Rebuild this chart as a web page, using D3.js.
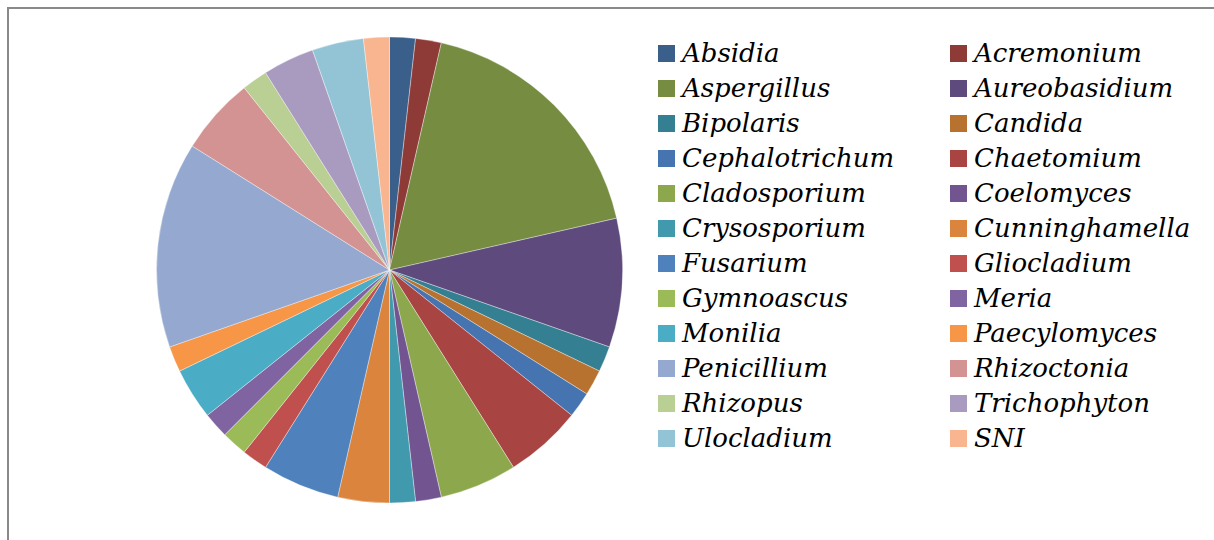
<!DOCTYPE html>
<html>
<head>
<meta charset="utf-8">
<style>
  body { margin: 0; background: #fff; }
  svg { display: block; }
</style>
</head>
<body>
<svg width="1214" height="540"></svg>
<script src="https://cdn.jsdelivr.net/npm/d3@7"></script>
<script>
// genus names, in legend / slice order
var genera = ["Absidia", "Acremonium", "Aspergillus", "Aureobasidium", "Bipolaris", "Candida",
  "Cephalotrichum", "Chaetomium", "Cladosporium", "Coelomyces", "Crysosporium", "Cunninghamella",
  "Fusarium", "Gliocladium", "Gymnoascus", "Meria", "Monilia", "Paecylomyces",
  "Penicillium", "Rhizoctonia", "Rhizopus", "Trichophyton", "Ulocladium", "SNI"];

// number of isolates per genus
var counts = [1, 1, 10, 5, 1, 1,
  1, 3, 3, 1, 1, 2,
  3, 1, 1, 1, 2, 1,
  8, 3, 1, 2, 2, 1];

var colors = ["#3a5f8b", "#8e3b38", "#758c41", "#5e4a7c", "#347f92", "#b8722f",
  "#4674b0", "#a84542", "#8da74d", "#725590", "#4199ae", "#db843d",
  "#4f81bd", "#c0504d", "#9bbb59", "#8064a2", "#4bacc6", "#f79646",
  "#95a9d0", "#d39392", "#bacf93", "#a99bbf", "#93c4d5", "#f9b590"];

var svg = d3.select("svg"),
    cx = 389.5, cy = 270, radius = 233;

// chart frame (only left and top edges show)
svg.append("path")
    .attr("d", "M8,540V8H1214")
    .attr("fill", "none")
    .attr("stroke", "#898989")
    .attr("stroke-width", 2);

var data = genera.map(function(g, i) { return {name: g, value: counts[i]}; });

var color = d3.scaleOrdinal().domain(genera).range(colors);

var pie = d3.pie()
    .sort(null)
    .value(function(d) { return d.value; });

var arc = d3.arc().innerRadius(0).outerRadius(radius);

var g = svg.append("g").attr("transform", "translate(" + cx + "," + cy + ")");

g.selectAll("path")
  .data(pie(data))
  .enter().append("path")
    .attr("d", arc)
    .attr("fill", function(d) { return color(d.data.name); })
    .attr("stroke", "#fff")
    .attr("stroke-width", 0.6)
    .attr("stroke-opacity", 0.6);

// legend, two columns
var colX = [658, 950], rowY0 = 45, rowH = 35;

var legend = svg.selectAll(".legend")
  .data(genera)
  .enter().append("g")
    .attr("class", "legend")
    .attr("transform", function(d, i) {
      return "translate(" + colX[i % 2] + "," + (rowY0 + Math.floor(i / 2) * rowH) + ")";
    });

legend.append("rect")
    .attr("width", 17)
    .attr("height", 17)
    .attr("fill", color);

legend.append("text")
    .attr("x", 24)
    .attr("y", 17)
    .attr("font-family", "'DejaVu Serif', 'Noto Serif', serif")
    .attr("font-style", "italic")
    .attr("font-size", 26)
    .attr("fill", "#000")
    .text(function(d) { return d; });
</script>
</body>
</html>
